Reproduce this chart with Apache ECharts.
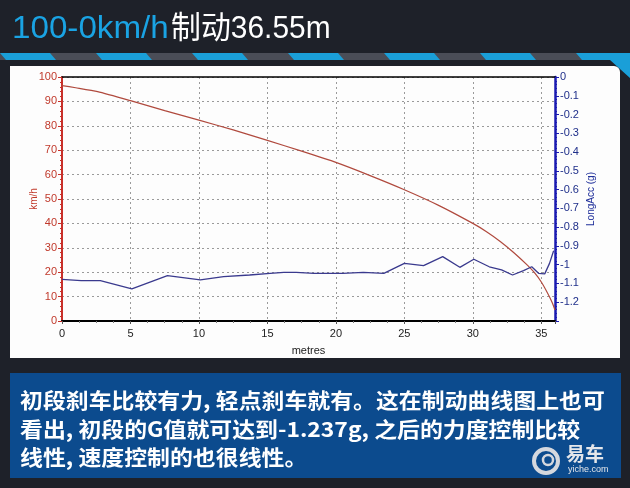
<!DOCTYPE html>
<html>
<head>
<meta charset="utf-8">
<script src="https://cdn.jsdelivr.net/npm/echarts@6/dist/echarts.min.js"></script>
<style>html,body{margin:0;padding:0;background:#1e2129;}#c{width:630px;height:488px;}</style>
</head>
<body>
<div id="c"></div>
<script>
// ---- data ----
var titleA = '100-0km/h';
var titleB = '制动36.55m';
var xTickLabels = ['0','5','10','15','20','25','30','35'];
var speedTicks = [0,10,20,30,40,50,60,70,80,90,100];
var accTicks = ['0','-0.1','-0.2','-0.3','-0.4','-0.5','-0.6','-0.7','-0.8','-0.9','-1','-1.1','-1.2'];
var speedDist = [0,1,2.6,5,7.5,10,12.5,15,17.5,20,22.5,25,27.5,30,31,32,33,34,34.5,35,35.5,35.8,36];
var speedVal  = [96.5,95.6,94.0,90.3,86.2,82.3,78.3,74.0,69.6,65.0,59.6,53.8,47.4,40.0,36.6,32.6,28.0,22.8,19.8,16.0,11.0,7.5,4.5];
var accDist = [0,1.4,2.8,5.1,7.7,10.1,11.8,13.7,15.2,16.2,17.1,18.4,20.5,22.0,23.5,25.0,26.4,27.8,29.05,30.07,31.2,32.1,32.9,33.7,34.3,34.8,35.25,35.6,35.9];
var accVal  = [-1.078,-1.085,-1.085,-1.129,-1.058,-1.081,-1.064,-1.055,-1.046,-1.041,-1.041,-1.046,-1.046,-1.041,-1.046,-0.993,-1.005,-0.957,-1.014,-0.971,-1.011,-1.028,-1.055,-1.032,-1.011,-1.046,-1.049,-0.993,-0.926];
var caption = '初段刹车比较有力, 轻点刹车就有。这在制动曲线图上也可\n看出, 初段的G值就可达到-1.237g, 之后的力度控制比较\n线性, 速度控制的也很线性。';

var speedData = speedDist.map(function(d,i){return [d, speedVal[i]];});
var accData = accDist.map(function(d,i){return [d, accVal[i]];});

// decorative stripe bar and frames
var deco = [];
deco.push({type:'rect', z:0, shape:{x:0,y:53,width:630,height:7}, style:{fill:'#4a4d57'}});
for (var i=-1;i<7;i++){
  var x0 = i*96;
  deco.push({type:'polygon', z:0, shape:{points:[[x0,53],[x0+50,53],[x0+56,60],[x0+6,60]]}, style:{fill:'#1a9fd8'}});
}
deco.push({type:'polygon', z:0, shape:{points:[[577,53],[630,53],[630,78],[610,60],[590,60]]}, style:{fill:'#1a9fd8'}});
deco.push({type:'rect', z:0, shape:{x:10,y:66,width:610,height:292,r:[0,6,0,0]}, style:{fill:'#fdfdfd'}});
deco.push({type:'rect', z:0, shape:{x:10,y:373,width:611,height:105}, style:{fill:'#0c4b8e'}});
deco.push({type:'text', z:10, x:12, y:14, scaleX:1.07, style:{
  text:titleA, fill:'#1aa3e3', fontSize:31, fontFamily:'Liberation Sans, Noto Sans CJK SC'
}});
deco.push({type:'text', z:10, x:171, y:14, scaleX:0.965, style:{
  text:titleB, fill:'#ffffff', fontSize:31, fontFamily:'Liberation Sans, Noto Sans CJK SC'
}});
deco.push({type:'text', z:10, x:20, y:386, scaleX:1.09, style:{
  text:caption, fill:'#ffffff', fontSize:21, fontWeight:'bold', lineHeight:28.5,
  fontFamily:'Noto Sans CJK SC, Liberation Sans'
}});
deco.push({type:'circle', z:10, shape:{cx:546,cy:461,r:12}, style:{fill:'none',stroke:'#d5d8de',lineWidth:4}});
deco.push({type:'circle', z:10, shape:{cx:548,cy:460,r:5}, style:{fill:'none',stroke:'#d5d8de',lineWidth:2.5}});
deco.push({type:'text', z:10, x:566, y:444, style:{text:'易车', fill:'#e4e6ea', fontSize:19, fontWeight:'bold', fontFamily:'Noto Sans CJK SC'}});
deco.push({type:'text', z:10, x:568, y:465, style:{text:'yiche.com', fill:'#e4e6ea', fontSize:9, fontFamily:'Liberation Sans'}});

var chart = echarts.init(document.getElementById('c'));
var lblFont = 'Liberation Sans, Arial, sans-serif';
chart.setOption({
  backgroundColor:'#1e2129',
  animation:false,
  graphic:{elements:deco},
  grid:{left:62,right:75,top:77,bottom:167,show:false},
  xAxis:[{
    type:'value', min:0, max:36, interval:5, z:5,
    name:'metres', nameLocation:'middle', nameGap:24,
    nameTextStyle:{color:'#222',fontSize:11,fontFamily:lblFont},
    axisLine:{onZero:false,lineStyle:{color:'#000',width:2}},
    axisTick:{show:true,length:3,lineStyle:{color:'#555'}},
    minorTick:{show:true,splitNumber:4,length:2,lineStyle:{color:'#777'}},
    axisLabel:{color:'#222',fontSize:11,fontFamily:lblFont,margin:7,showMaxLabel:false,
      formatter:function(v){var s=String(v);return xTickLabels.indexOf(s)>=0?s:'';}},
    splitLine:{show:true,lineStyle:{color:'#9a9a9a',type:[2,3],width:1}}
  },{
    type:'value', min:0, max:36, position:'top', z:5,
    axisLine:{onZero:false,lineStyle:{color:'#000',width:1.5}},
    axisTick:{show:false}, axisLabel:{show:false}, splitLine:{show:false}
  }],
  yAxis:[{
    type:'value', min:0, max:100, interval:10, z:5,
    name:'km/h', nameLocation:'middle', nameGap:23, nameRotate:90, nameMoveOverlap:false,
    nameTextStyle:{color:'#c0392b',fontSize:10,fontFamily:lblFont},
    axisLine:{show:true,onZero:false,lineStyle:{color:'#c8302a',width:2}},
    axisTick:{show:true,length:4,lineStyle:{color:'#c8302a'}},
    minorTick:{show:true,splitNumber:5,length:2,lineStyle:{color:'#c8302a'}},
    axisLabel:{color:'#c0392b',fontSize:11,fontFamily:lblFont,margin:5,
      formatter:function(v){return speedTicks.indexOf(v)>=0?String(v):'';}},
    splitLine:{show:true,lineStyle:{color:'#9a9a9a',type:[2,3],width:1}}
  },{
    type:'value', min:-1.3, max:0, interval:0.1, position:'right', z:5,
    name:'LongAcc (g)', nameLocation:'middle', nameGap:31, nameRotate:90, nameMoveOverlap:false,
    nameTextStyle:{color:'#1f2f9a',fontSize:10,fontFamily:lblFont},
    axisLine:{show:true,onZero:false,lineStyle:{color:'#1a1ab0',width:2.5}},
    axisTick:{show:true,length:4,lineStyle:{color:'#1a1ab0'}},
    minorTick:{show:true,splitNumber:5,length:2,lineStyle:{color:'#1a1ab0'}},
    axisLabel:{color:'#1f2f8a',fontSize:11,fontFamily:lblFont,margin:5,showMinLabel:false,
      formatter:function(v){var s=String(Math.round(v*10)/10);if(s==='-0')s='0';return accTicks.indexOf(s)>=0?s:'';}},
    splitLine:{show:false}
  }],
  series:[{
    type:'line', xAxisIndex:0, yAxisIndex:0, data:speedData, z:6,
    symbol:'none', smooth:0.2, lineStyle:{color:'#b04a3e',width:1.2}
  },{
    type:'line', xAxisIndex:0, yAxisIndex:1, data:accData, z:6,
    symbol:'none', lineStyle:{color:'#3a3a8e',width:1.3}
  }]
});
</script>
</body>
</html>
